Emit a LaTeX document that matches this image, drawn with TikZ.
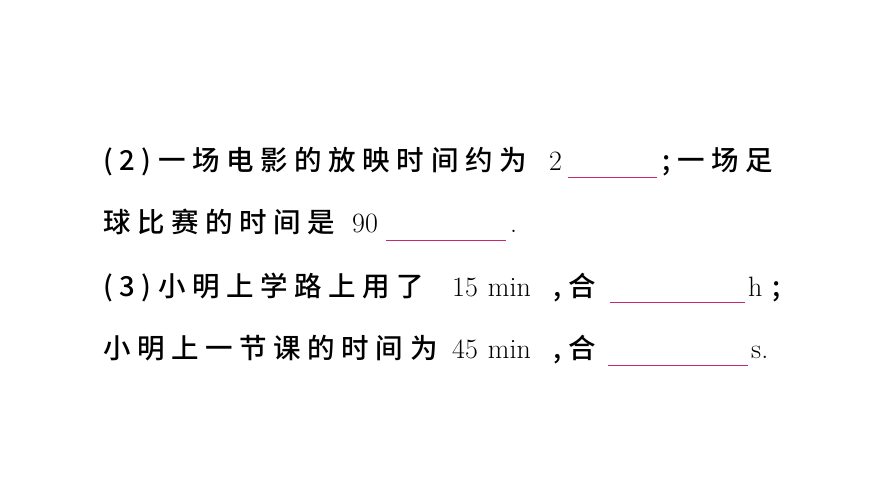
\documentclass[tikz,border=0pt]{standalone}
\usepackage{fontspec}
\newfontfamily\cjk{Noto Sans CJK SC Medium}[LetterSpace=24]
\definecolor{blank}{RGB}{200,40,110}
\begin{document}
\begin{tikzpicture}[x=1pt,y=-1pt,
  t/.style={anchor=base west,inner sep=0pt,font=\fontsize{28}{30}\selectfont},
  c/.style={t,font=\fontsize{27.5}{30}\selectfont\cjk},
  bl/.style={blank,line width=0.9pt}]
\useasboundingbox (0,0) rectangle (870,489);
% line 1
\node[c] (a1) at (103,171) {(2)一场电影的放映时间约为};
\node[t] (a2) at (549,171) {2};
\coordinate (b1s) at (568,177); \coordinate (b1e) at (657,177);
\draw[bl] (b1s) -- (b1e);
\node[c] (a3) at (662,171) {;一场足};
% line 2
\node[c] (l2) at (103,233) {球比赛的时间是};
\node[t] (l2n) at (352,233) {90};
\coordinate (b2s) at (386,240); \coordinate (b2e) at (506,240);
\draw[bl] (b2s) -- (b2e);
\node[t] (l2p) at (510,233) {.};
% line 3
\node[c] (l3) at (103,296) {(3)小明上学路上用了};
\node[t] (l3n) at (452,296) {15\hspace{10pt}min};
\node[c] (l3c) at (553,296) {,合};
\coordinate (b3s) at (610,302); \coordinate (b3e) at (745,302);
\draw[bl] (b3s) -- (b3e);
\node[t] (l3h) at (748,296) {h};
\node[c] (l3s) at (772,296) {;};
% line 4
\node[c] (l4) at (103,358) {小明上一节课的时间为};
\node[t] (l4n) at (452,358) {45\hspace{10pt}min};
\node[c] (l4c) at (553,358) {,合};
\coordinate (b4s) at (608,365); \coordinate (b4e) at (748,365);
\draw[bl] (b4s) -- (b4e);
\node[t] (l4s) at (751,358) {s.};
\end{tikzpicture}
\end{document}
